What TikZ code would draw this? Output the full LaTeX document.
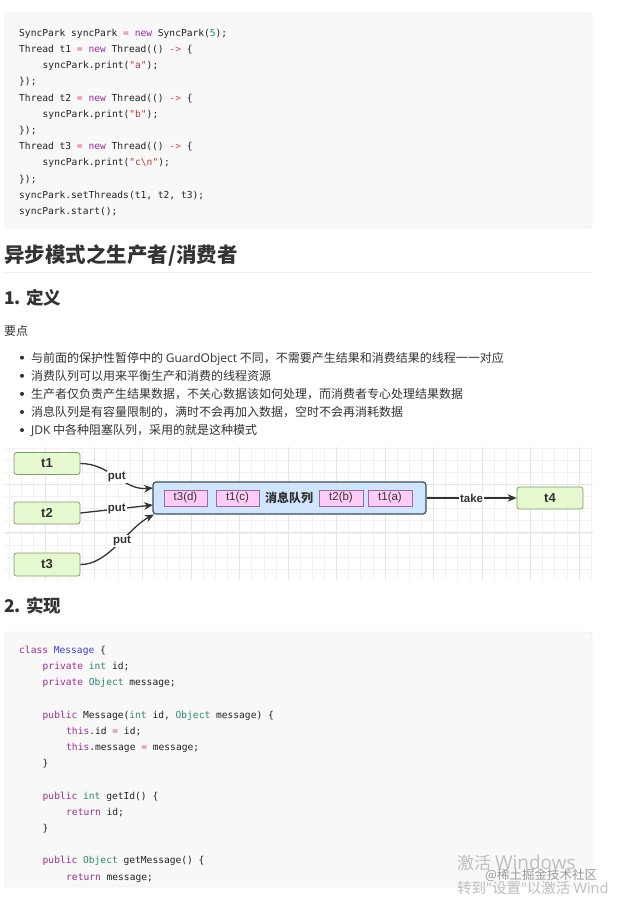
\documentclass[tikz,border=0pt]{standalone}
\usepackage{fontspec}
\setmainfont{Liberation Sans}
\setmonofont{DejaVu Sans Mono}
\newfontfamily\cjk{Noto Sans CJK SC}
\newfontfamily\osf{Open Sans}
\usetikzlibrary{arrows.meta}
\definecolor{txt}{HTML}{333333}
\definecolor{codetxt}{HTML}{222222}
\definecolor{codebg}{HTML}{F8F8F8}
\definecolor{codeborder}{HTML}{E3E3E3}
\definecolor{kwc}{HTML}{9B2B96}
\definecolor{tyc}{HTML}{2A8A6E}
\definecolor{stc}{HTML}{C8313A}
\definecolor{opc}{HTML}{D0455A}
\definecolor{clsc}{HTML}{3D3DD6}
\definecolor{rulec}{HTML}{EEEEEE}
\definecolor{gridmin}{HTML}{F1F1F1}
\definecolor{gridmaj}{HTML}{E5E5E5}
\definecolor{thrfill}{HTML}{E6F8CF}
\definecolor{thrborder}{HTML}{7E9C68}
\definecolor{qfill}{HTML}{CFE5FC}
\definecolor{qborder}{HTML}{3E4C5C}
\definecolor{msgfill}{HTML}{FFCCF7}
\definecolor{msgborder}{HTML}{9A6AA3}
\definecolor{wmc}{HTML}{BEBEBE}
\definecolor{wmd}{HTML}{9A9A9A}
\newcommand\cKw[1]{\textcolor{kwc}{#1}}
\newcommand\cTy[1]{\textcolor{tyc}{#1}}
\newcommand\cSt[1]{\textcolor{stc}{#1}}
\newcommand\cOp[1]{\textcolor{opc}{#1}}
\newcommand\cCls[1]{\textcolor{clsc}{#1}}
\tikzset{
  codeline/.style={anchor=base west, inner sep=0, text=codetxt, font=\ttfamily\fontsize{9.6}{9.6}\selectfont},
  cjkline/.style={anchor=base west, inner sep=0, text=txt, font=\cjk\fontsize{12}{12}\selectfont},
  head/.style={anchor=base west, inner sep=0, text=txt},
  thr/.style={draw=thrborder, fill=thrfill, rounded corners=2.5pt, minimum width=66pt, minimum height=22pt, inner sep=0, line width=0.8pt, text=txt, font=\bfseries\fontsize{13}{13}\selectfont},
  queuebox/.style={draw=qborder, fill=qfill, rounded corners=3pt, minimum width=273pt, minimum height=32pt, inner sep=0, line width=1.2pt},
  msg/.style={draw=msgborder, fill=msgfill, minimum width=43pt, minimum height=16pt, inner sep=0, line width=0.7pt, text=txt, font=\fontsize{11.5}{11.5}\selectfont},
  lbl/.style={fill=white, inner sep=1pt, text=txt, font=\bfseries\fontsize{11.5}{11.5}\selectfont},
  arr/.style={draw=txt, line width=1.3pt, -{Stealth[length=9pt,width=7.5pt]}},
  gmin/.style={draw=gridmin, line width=0.6pt},
  gmaj/.style={draw=gridmaj, line width=0.8pt},
  wm/.style={anchor=west, inner sep=0, text=wmc}
}
\begin{document}
\begin{tikzpicture}[x=1pt,y=-1pt]
\fill[white] (0,0) rectangle (616,904);
\useasboundingbox (0,0) rectangle (616,904);

% ---- code block 1
\draw[fill=codebg, draw=codeborder, rounded corners=2pt] (5,13) rectangle (592,228);
\node[codeline] (a1) at (19,36.3) {SyncPark syncPark \cOp{=} \cKw{new} SyncPark(\cTy{5});};
\node[codeline] (a2) at (19,52.5) {Thread t1 \cOp{=} \cKw{new} Thread(() \cOp{->} \{};
\node[codeline] (a3) at (42.5,68.7) {syncPark.print(\cSt{"a"});};
\node[codeline] (a4) at (19,84.9) {\});};
\node[codeline] (a5) at (19,101.1) {Thread t2 \cOp{=} \cKw{new} Thread(() \cOp{->} \{};
\node[codeline] (a6) at (42.5,117.3) {syncPark.print(\cSt{"b"});};
\node[codeline] (a7) at (19,133.5) {\});};
\node[codeline] (a8) at (19,149.7) {Thread t3 \cOp{=} \cKw{new} Thread(() \cOp{->} \{};
\node[codeline] (a9) at (42.5,165.9) {syncPark.print(\cSt{"c\textbackslash n"});};
\node[codeline] (a10) at (19,182.1) {\});};
\node[codeline] (a11) at (19,198.3) {syncPark.setThreads(t1, t2, t3);};
\node[codeline] (a12) at (19,214.5) {syncPark.start();};

% ---- headings
\node[head, font=\cjk\bfseries\fontsize{20.5}{20.5}\selectfont] (h1) at (4,262.6) {异步模式之生产者/消费者};
\draw[rulec, line width=1pt] (4,272) -- (592,272);
\node[head, font=\cjk\bfseries\fontsize{17.5}{17.5}\selectfont] (h2) at (4,304.6) {1. 定义};
\node[cjkline] (yd) at (4,335.5) {要点};

% ---- bullets
\foreach \yy in {357.7,375.8,393.9,412,430.1} { \fill[txt] (22,\yy) circle (2); }
\node[cjkline] (b1) at (31,362.2) {与前面的保护性暂停中的 {\osf GuardObject} 不同，不需要产生结果和消费结果的线程一一对应};
\node[cjkline] (b2) at (31,380.3) {消费队列可以用来平衡生产和消费的线程资源};
\node[cjkline] (b3) at (31,398.4) {生产者仅负责产生结果数据，不关心数据该如何处理，而消费者专心处理结果数据};
\node[cjkline] (b4) at (31,416.5) {消息队列是有容量限制的，满时不会再加入数据，空时不会再消耗数据};
\node[cjkline] (b5) at (31,434.6) {{\osf JDK} 中各种阻塞队列，采用的就是这种模式};

% ---- diagram grid
\foreach \i in {0,...,48} { \draw[gmin] ({9.3+\i*12.12},447) -- ({9.3+\i*12.12},580); }
\foreach \j in {0,...,10} { \draw[gmin] (5,{448+\j*12.12}) -- (593,{448+\j*12.12}); }
\foreach \i in {3,7,...,47} { \draw[gmaj] ({9.3+\i*12.12},447) -- ({9.3+\i*12.12},580); }
\foreach \j in {3,7} { \draw[gmaj] (5,{448+\j*12.12}) -- (593,{448+\j*12.12}); }

% ---- diagram nodes
\node[thr] (t1) at (47,463.5) {t1};
\node[thr] (t2) at (47,513) {t2};
\node[thr, minimum height=23pt] (t3) at (47,564.5) {t3};
\node[queuebox] (q) at (289.5,498) {};
\node[msg] (m1) at (185.5,498) {t3(d)};
\node[msg] (m2) at (237.5,498) {t1(c)};
\node[inner sep=0, text=txt, font=\cjk\bfseries\fontsize{12}{12}\selectfont] (ql) at (289,498) {消息队列};
\node[msg, minimum width=44pt] (m3) at (341,498) {t2(b)};
\node[msg, minimum width=44pt] (m4) at (390,498) {t1(a)};
\node[thr] (t4) at (550,498) {t4};

\coordinate (q1) at (153,488);
\coordinate (q2) at (153,505);
\coordinate (q3) at (154,514.5);
\draw[arr] (t1.east) to[out=0,in=185] node[lbl,pos=0.5] (p1) {put} (q1);
\draw[arr] (t2.east) -- node[lbl,pos=0.5] (p2) {put} (q2);
\draw[arr] (t3.east) .. controls (108,565) and (128,528) .. node[lbl,pos=0.56] (p3) {put} (q3);
\draw[arr] (q.east) -- node[lbl,pos=0.5] (tk) {take} (t4.west);

% ---- heading 2
\node[head, font=\cjk\bfseries\fontsize{17.5}{17.5}\selectfont] (h3) at (4,612.3) {2. 实现};

% ---- code block 2
\draw[fill=codebg, draw=codeborder, rounded corners=2pt] (5,632) rectangle (592,887);
\node[codeline] (c1) at (19,653.3) {\cKw{class} \cCls{Message} \{};
\node[codeline] (c2) at (42.5,669.5) {\cKw{private} \cTy{int} id;};
\node[codeline] (c3) at (42.5,685.7) {\cKw{private} \cTy{Object} message;};
\node[codeline] (c5) at (42.5,718.1) {\cKw{public} Message(\cTy{int} id, \cTy{Object} message) \{};
\node[codeline] (c6) at (66,734.3) {\cKw{this}.id \cOp{=} id;};
\node[codeline] (c7) at (66,750.5) {\cKw{this}.message \cOp{=} message;};
\node[codeline] (c8) at (42.5,766.7) {\}};
\node[codeline] (c10) at (42.5,799.1) {\cKw{public} \cTy{int} getId() \{};
\node[codeline] (c11) at (66,815.3) {\cKw{return} id;};
\node[codeline] (c12) at (42.5,831.5) {\}};
\node[codeline] (c14) at (42.5,863.9) {\cKw{public} \cTy{Object} getMessage() \{};
\node[codeline] (c15) at (66,880.1) {\cKw{return} message;};

% ---- watermark
\node[wm, font=\cjk\fontsize{17}{17}\selectfont] (w1) at (457,863) {激活 {\osf\fontsize{19}{19}\selectfont Windows}};
\node[wm, text=wmd, font=\cjk\fontsize{12.5}{12.5}\selectfont] (w2) at (485,875.5) {@稀土掘金技术社区};
\node[wm, font=\cjk\fontsize{14.5}{14.5}\selectfont] (w3) at (457,888.5) {转到{\osf "}设置{\osf "}以激活 {\osf Wind}};
\end{tikzpicture}
\end{document}
